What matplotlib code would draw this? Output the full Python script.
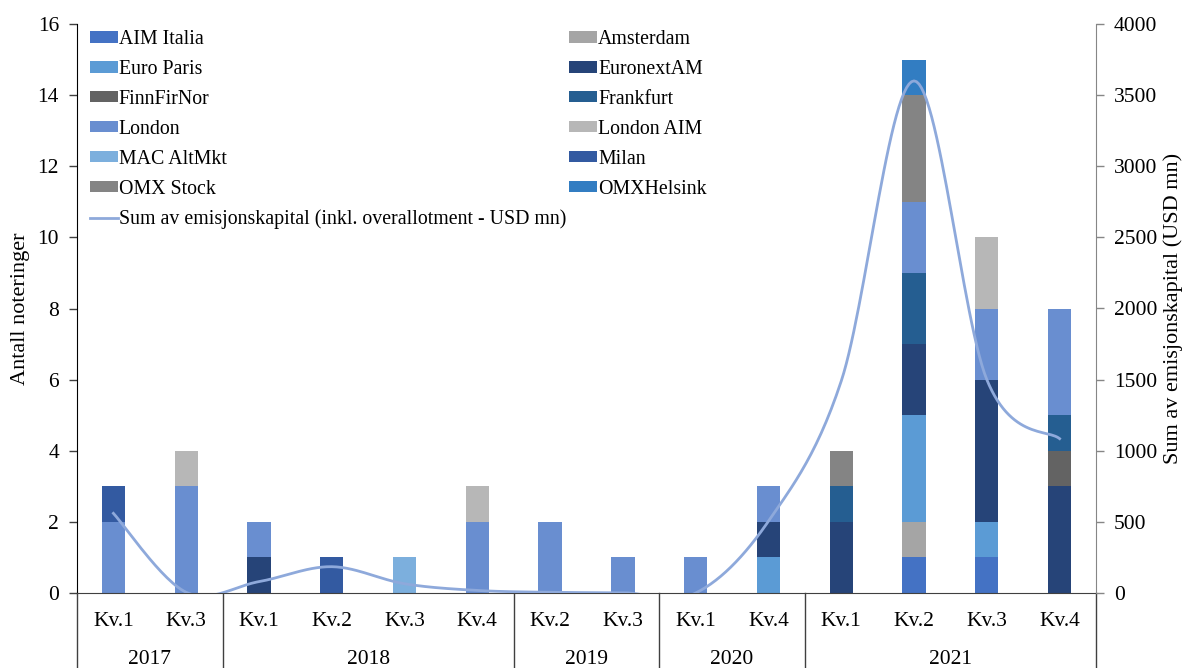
import numpy as np
import matplotlib
matplotlib.use('Agg')
import matplotlib.pyplot as plt
from matplotlib.patches import Patch
from matplotlib.lines import Line2D

plt.rcParams['font.family'] = ['Liberation Serif', 'DejaVu Serif']

# Data
quarters = ['Kv.1', 'Kv.3', 'Kv.1', 'Kv.2', 'Kv.3', 'Kv.4', 'Kv.2', 'Kv.3',
            'Kv.1', 'Kv.4', 'Kv.1', 'Kv.2', 'Kv.3', 'Kv.4']
years = ['2017', '2018', '2019', '2020', '2021']
year_counts = [2, 4, 2, 2, 4]

aim_italia = [0, 0, 0, 0, 0, 0, 0, 0, 0, 0, 0, 1, 1, 0]
amsterdam = [0, 0, 0, 0, 0, 0, 0, 0, 0, 0, 0, 1, 0, 0]
euro_paris = [0, 0, 0, 0, 0, 0, 0, 0, 0, 1, 0, 3, 1, 0]
euronext_am = [0, 0, 1, 0, 0, 0, 0, 0, 0, 1, 2, 2, 4, 3]
finnfirnor = [0, 0, 0, 0, 0, 0, 0, 0, 0, 0, 0, 0, 0, 1]
frankfurt = [0, 0, 0, 0, 0, 0, 0, 0, 0, 0, 1, 2, 0, 1]
london = [2, 3, 1, 0, 0, 2, 2, 1, 1, 1, 0, 2, 2, 3]
london_aim = [0, 1, 0, 0, 0, 1, 0, 0, 0, 0, 0, 0, 2, 0]
mac_altmkt = [0, 0, 0, 0, 1, 0, 0, 0, 0, 0, 0, 0, 0, 0]
milan = [1, 0, 0, 1, 0, 0, 0, 0, 0, 0, 0, 0, 0, 0]
omx_stock = [0, 0, 0, 0, 0, 0, 0, 0, 0, 0, 1, 3, 0, 0]
omx_helsink = [0, 0, 0, 0, 0, 0, 0, 0, 0, 0, 0, 1, 0, 0]

capital = [560, 5, 80, 185, 65, 18, 5, 2, 0, 505, 1490, 3600, 1500, 1085]

series = [
    ('AIM Italia', aim_italia, '#4472C4'),
    ('Amsterdam', amsterdam, '#A5A5A5'),
    ('Euro Paris', euro_paris, '#5B9BD5'),
    ('EuronextAM', euronext_am, '#264478'),
    ('FinnFirNor', finnfirnor, '#636363'),
    ('Frankfurt', frankfurt, '#255E91'),
    ('London', london, '#698ED0'),
    ('London AIM', london_aim, '#B7B7B7'),
    ('MAC AltMkt', mac_altmkt, '#7CAFDD'),
    ('Milan', milan, '#335AA1'),
    ('OMX Stock', omx_stock, '#848484'),
    ('OMXHelsink', omx_helsink, '#327DC2'),
]
LINE_LABEL = 'Sum av emisjonskapital (inkl. overallotment - USD mn)'
LINE_COLOR = '#8EA9DB'

DPI = 100
W, H = 1192, 668
FS = 15.5
LEG_FS = 14.3


def smooth(xs, ys, n=30):
    # Catmull-Rom style smoothing similar to Excel's smoothed line
    xs = np.asarray(xs, float)
    ys = np.asarray(ys, float)
    px = np.concatenate([[xs[0]], xs, [xs[-1]]])
    py = np.concatenate([[ys[0]], ys, [ys[-1]]])
    ox, oy = [], []
    for i in range(1, len(px) - 2):
        p0 = np.array([px[i], py[i]])
        p3 = np.array([px[i + 1], py[i + 1]])
        c1 = p0 + (np.array([px[i + 1], py[i + 1]]) - np.array([px[i - 1], py[i - 1]])) / 6
        c2 = p3 - (np.array([px[i + 2], py[i + 2]]) - np.array([px[i], py[i]])) / 6
        t = np.linspace(0, 1, n)[:, None]
        pts = ((1 - t) ** 3) * p0 + 3 * ((1 - t) ** 2) * t * c1 + 3 * (1 - t) * t ** 2 * c2 + t ** 3 * p3
        ox.extend(pts[:, 0])
        oy.extend(pts[:, 1])
    return np.array(ox), np.array(oy)


fig = plt.figure(figsize=(W / DPI, H / DPI), dpi=DPI)
L, R, T, B = 77, 1096, 24, 593
ax = fig.add_axes([L / W, (H - B) / H, (R - L) / W, (B - T) / H])
ax2 = ax.twinx()

x = np.arange(len(quarters))
bottom = np.zeros(len(quarters))
handles = []
for name, vals, color in series:
    ax.bar(x, vals, bottom=bottom, width=0.32, color=color, zorder=2)
    bottom += np.array(vals)
    handles.append(Patch(facecolor=color, label=name))

sx, sy = smooth(x, capital)
ax2.plot(sx, sy, color=LINE_COLOR, lw=2.0, zorder=3)
handles.append(Line2D([], [], color=LINE_COLOR, lw=2.0, label=LINE_LABEL))

ax.set_xlim(-0.5, len(quarters) - 0.5)
ax.set_ylim(0, 16)
ax2.set_ylim(0, 4000)
ax.set_yticks(range(0, 17, 2))
ax2.set_yticks(range(0, 4001, 500))

for a in (ax, ax2):
    a.spines['top'].set_visible(False)
ax.spines['left'].set_color('#000000')
ax.spines['bottom'].set_color('#404040')
ax2.spines['right'].set_color('#868686')
ax.spines['right'].set_visible(False)
ax2.spines['left'].set_visible(False)
ax2.spines['bottom'].set_visible(False)

ax.tick_params(axis='y', direction='out', length=6, width=1, pad=7, labelsize=FS, color='#404040')
ax2.tick_params(axis='y', direction='out', length=6, width=1, pad=7, labelsize=FS, color='#868686')
ax.set_xticks(x)
ax.set_xticklabels(quarters, fontsize=FS)
ax.tick_params(axis='x', length=0, pad=14)

ax.set_ylabel('Antall noteringer', fontsize=16, labelpad=5)
ax2.set_ylabel('Sum av emisjonskapital (USD mn)', fontsize=16, labelpad=4)

# year grouping
trans = ax.get_xaxis_transform()
edges = np.concatenate([[0], np.cumsum(year_counts)]) - 0.5
for e in edges:
    ax.plot([e, e], [0, -0.14], transform=trans, color='#404040', lw=1, clip_on=False)
for i, yr in enumerate(years):
    c = (edges[i] + edges[i + 1]) / 2
    ax.text(c, -0.116, yr, transform=trans, ha='center', va='center', fontsize=FS)

order = [0, 2, 4, 6, 8, 10, 12, 1, 3, 5, 7, 9, 11]
ordered = [handles[i] for i in order]
ax2.legend(handles=ordered, loc='upper left', bbox_to_anchor=(90 / W, 1 - 30 / H),
           bbox_transform=fig.transFigure, ncol=2, frameon=False, fontsize=LEG_FS,
           handlelength=1.4, handleheight=0.5, handletextpad=0.05, labelspacing=0.55,
           columnspacing=0.15, borderpad=0, borderaxespad=0)

fig.savefig('out.png', dpi=DPI)
